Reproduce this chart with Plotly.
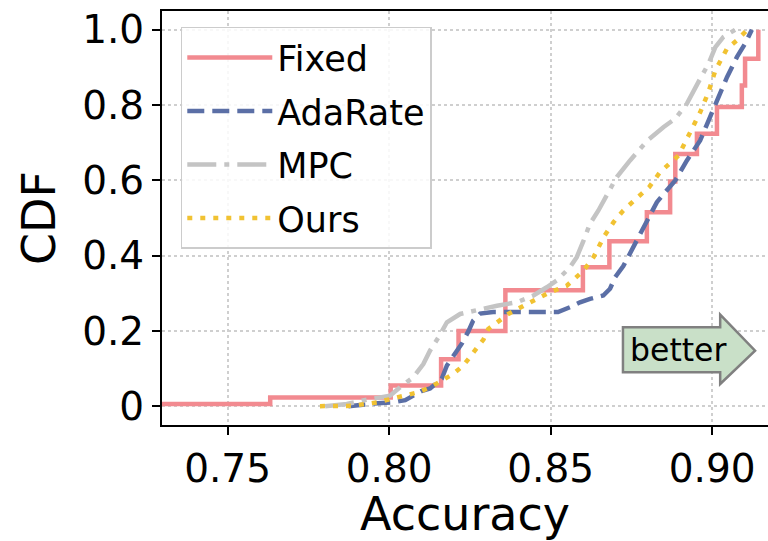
import plotly.graph_objects as go

# ---- data ----
fixed_x = [0.700, 0.7632, 0.8005, 0.8161, 0.8215, 0.8360, 0.8600, 0.8682, 0.8798,
           0.8870, 0.8886, 0.8953, 0.9015, 0.9092, 0.9102, 0.9143]
fixed_y = [0.006, 0.023, 0.055, 0.125, 0.200, 0.308, 0.369, 0.438, 0.515,
           0.597, 0.670, 0.724, 0.795, 0.852, 0.923, 1.0]

adarate_x = [0.7874, 0.7930, 0.7965, 0.8010, 0.8050, 0.8075, 0.8100, 0.8127, 0.8163, 0.8179,
             0.8204, 0.8225, 0.8246, 0.8260, 0.8282, 0.8322, 0.8400, 0.8523, 0.8560, 0.8591,
             0.8622, 0.8663, 0.8684, 0.8700, 0.8725, 0.8745, 0.8772, 0.8800, 0.8829, 0.8850,
             0.8886, 0.8922, 0.8963, 0.8989, 0.9015, 0.9046, 0.9077, 0.9102, 0.9123]
adarate_y = [0.000, 0.006, 0.008, 0.010, 0.016, 0.028, 0.040, 0.047, 0.073, 0.108,
             0.140, 0.166, 0.200, 0.227, 0.246, 0.250, 0.250, 0.250, 0.263, 0.276,
             0.285, 0.294, 0.312, 0.343, 0.372, 0.405, 0.449, 0.495, 0.542, 0.564,
             0.600, 0.653, 0.706, 0.759, 0.812, 0.874, 0.928, 0.963, 1.000]

mpc_x = [0.7802, 0.7869, 0.7930, 0.8003, 0.8034, 0.8075, 0.8106, 0.8127, 0.8153, 0.8179,
         0.8220, 0.8272, 0.8334, 0.8395, 0.8447, 0.8488, 0.8519, 0.8560, 0.8581, 0.8602,
         0.8622, 0.8648, 0.8684, 0.8705, 0.8746, 0.8775, 0.8800, 0.8850, 0.8886, 0.8922,
         0.8947, 0.8963, 0.8989, 0.9010, 0.9035, 0.9071]
mpc_y = [0.000, 0.006, 0.017, 0.028, 0.050, 0.077, 0.112, 0.148, 0.183, 0.223,
         0.245, 0.256, 0.267, 0.276, 0.294, 0.316, 0.334, 0.369, 0.396, 0.440,
         0.485, 0.520, 0.573, 0.609, 0.653, 0.680, 0.706, 0.742, 0.764, 0.804,
         0.848, 0.870, 0.910, 0.954, 0.981, 1.000]

ours_x = [0.7786, 0.7885, 0.7962, 0.8008, 0.8050, 0.8090, 0.8127, 0.8168, 0.8199, 0.8230,
          0.8246, 0.8272, 0.8292, 0.8307, 0.8334, 0.8369, 0.8437, 0.8499, 0.8550, 0.8602,
          0.8633, 0.8664, 0.8695, 0.8725, 0.8767, 0.8805, 0.8839, 0.8896, 0.8927, 0.8963,
          0.8989, 0.9010, 0.9046, 0.9077, 0.9102, 0.9108]
ours_y = [0.000, 0.001, 0.010, 0.020, 0.028, 0.037, 0.050, 0.072, 0.086, 0.108,
          0.125, 0.152, 0.177, 0.205, 0.222, 0.245, 0.276, 0.303, 0.320, 0.360,
          0.396, 0.449, 0.489, 0.520, 0.553, 0.582, 0.622, 0.666, 0.719, 0.781,
          0.835, 0.892, 0.950, 0.972, 0.994, 1.000]

x_ticks = [0.75, 0.80, 0.85, 0.90]
x_ticklabels = ["0.75", "0.80", "0.85", "0.90"]
y_ticks = [0, 0.2, 0.4, 0.6, 0.8, 1.0]
y_ticklabels = ["0", "0.2", "0.4", "0.6", "0.8", "1.0"]

# ---- styles ----
FONT = "DejaVu Sans"
LW = 4.5
colors = {"Fixed": "#f28a90", "AdaRate": "#5b6fa6", "MPC": "#c4c4c4", "Ours": "#f1c232"}

fig = go.Figure()
fig.add_trace(go.Scatter(x=fixed_x, y=fixed_y, mode="lines", name="Fixed", legendgroup="a",
                         line=dict(color=colors["Fixed"], width=LW, shape="hv")))
fig.add_trace(go.Scatter(x=adarate_x, y=adarate_y, mode="lines", name="AdaRate", legendgroup="b",
                         line=dict(color=colors["AdaRate"], width=LW, dash="17px,8px")))
fig.add_trace(go.Scatter(x=mpc_x, y=mpc_y, mode="lines", name="MPC", legendgroup="c",
                         line=dict(color=colors["MPC"], width=LW, dash="29px,8px,5px,8px")))
fig.add_trace(go.Scatter(x=ours_x, y=ours_y, mode="lines", name="Ours", legendgroup="d",
                         line=dict(color=colors["Ours"], width=LW, dash="5px,8px")))

# "better" arrow annotation (paths in data coordinates)
arrow_left, arrow_base, arrow_tip = 0.8724, 0.9025, 0.9133
body_top, body_bot, head_top, head_bot, tip_y = 0.2096, 0.0899, 0.2434, 0.059, 0.1476
path = (f"M {arrow_left},{body_bot} L {arrow_left},{body_top} L {arrow_base},{body_top} "
        f"L {arrow_base},{head_top} L {arrow_tip},{tip_y} L {arrow_base},{head_bot} "
        f"L {arrow_base},{body_bot} Z")
fig.add_shape(type="path", path=path, xref="x", yref="y",
              fillcolor="#c9e0c8", line=dict(color="#808080", width=2.5), layer="above")
fig.add_annotation(x=0.8895, y=0.150, xref="x", yref="y", text="better", showarrow=False,
                   font=dict(family=FONT, size=31.5, color="black"))

grid = dict(showgrid=True, gridcolor="#cfcfcf", griddash="dot", gridwidth=2)

fig.update_layout(
    width=768, height=541,
    margin=dict(l=162, r=0, t=11, b=116),
    plot_bgcolor="white", paper_bgcolor="white",
    font=dict(family=FONT, color="black"),
    legend=dict(x=0.031, y=0.962, xanchor="left", yanchor="top",
                bgcolor="rgba(255,255,255,0.85)", bordercolor="#cccccc", borderwidth=1.5,
                font=dict(family=FONT, size=35), tracegroupgap=5, itemwidth=85),
    xaxis=dict(range=[0.7297, 0.9173], tickvals=x_ticks, ticktext=x_ticklabels,
               tickfont=dict(size=39), ticks="outside", ticklen=8, tickwidth=2, tickcolor="black",
               showline=True, linecolor="black", linewidth=2, mirror=True,
               title=dict(text="Accuracy", font=dict(size=46), standoff=6),
               zeroline=False, **grid),
    yaxis=dict(range=[-0.05, 1.05], tickvals=y_ticks, ticktext=y_ticklabels,
               tickfont=dict(size=39), ticks="outside", ticklen=8, tickwidth=2, tickcolor="black",
               showline=True, linecolor="black", linewidth=2,
               title=dict(text="CDF", font=dict(size=46), standoff=12),
               zeroline=False, **grid),
)

fig.write_html("out.html")
